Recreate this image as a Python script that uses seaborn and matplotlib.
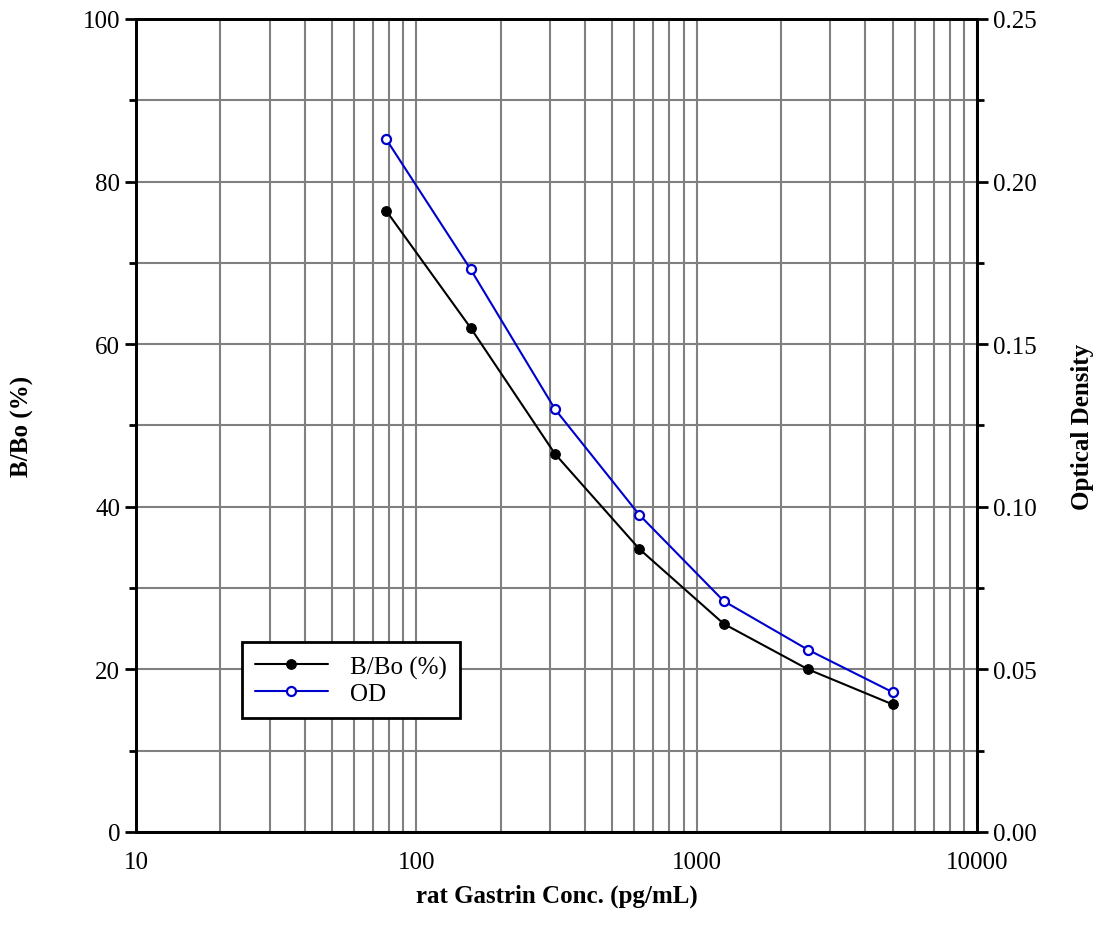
import matplotlib
matplotlib.use("Agg")
import matplotlib.pyplot as plt
import matplotlib.ticker as mticker
import seaborn as sns
import pandas as pd

# ---- data ----
conc = [78.125, 156.25, 312.5, 625, 1250, 2500, 5000]
bbo = [76.4, 62.0, 46.5, 34.8, 25.6, 20.0, 15.7]
od = [0.213, 0.173, 0.130, 0.0975, 0.071, 0.056, 0.043]

x_ticks = [10, 100, 1000, 10000]
left_ticks = [0, 20, 40, 60, 80, 100]
right_ticks = [0.00, 0.05, 0.10, 0.15, 0.20, 0.25]

sns.set_style("white")
plt.rcParams["font.family"] = ["Liberation Serif", "DejaVu Serif"]
for key in ("text.color", "axes.labelcolor", "xtick.color", "ytick.color"):
    plt.rcParams[key] = "black"
FS = 18

df = pd.DataFrame({"conc": conc, "bbo": bbo, "od": od})

fig = plt.figure(figsize=(10.94, 9.37), dpi=100)
ax = fig.add_axes([0.1243, 0.111, 0.7687, 0.8677])
ax2 = ax.twinx()

ax.set_xscale("log")
ax.set_xlim(10, 10000)
ax.set_ylim(0, 100)
ax2.set_ylim(0, 0.25)

# ticks + grid
ax.xaxis.set_minor_locator(mticker.LogLocator(base=10, subs=range(2, 10), numticks=20))
ax.xaxis.set_minor_formatter(mticker.NullFormatter())
ax.set_xticks(x_ticks)
ax.set_xticklabels([str(t) for t in x_ticks])
ax.set_yticks(left_ticks)
ax.yaxis.set_minor_locator(mticker.MultipleLocator(10))
ax2.set_yticks(right_ticks)
ax2.set_yticklabels([f"{t:.2f}" for t in right_ticks])
ax2.yaxis.set_minor_locator(mticker.MultipleLocator(0.025))
ax.grid(True, which="both", color="#808080", linewidth=1.5)
ax.set_axisbelow(True)

sns.lineplot(data=df, x="conc", y="bbo", ax=ax, color="black", marker="o",
             markersize=7, markerfacecolor="black", markeredgecolor="black",
             linewidth=1.5, label="B/Bo (%)", legend=False)
sns.lineplot(data=df, x="conc", y="od", ax=ax2, color="#0000CC", marker="o",
             markersize=6.5, markerfacecolor="white", markeredgecolor="#0000CC",
             markeredgewidth=1.6, linewidth=1.5, label="OD", legend=False)

for a in (ax, ax2):
    for s in a.spines.values():
        s.set_linewidth(2)
        s.set_color("black")
ax.tick_params(axis="both", which="major", direction="out", length=8, width=2,
               labelsize=FS, colors="black")
ax.tick_params(axis="both", which="minor", direction="out", length=5, width=2)
ax.tick_params(axis="x", which="major", pad=6)
ax2.tick_params(axis="y", which="major", direction="out", length=8, width=2,
                labelsize=FS, colors="black")
ax2.tick_params(axis="y", which="minor", direction="out", length=5, width=2)

ax.set_xlabel("rat Gastrin Conc. (pg/mL)", fontweight="bold", fontsize=FS,
              labelpad=7, color="black")
ax.set_ylabel("B/Bo (%)", fontweight="bold", fontsize=FS, labelpad=35, color="black")
ax2.set_ylabel("Optical Density", fontweight="bold", fontsize=FS, labelpad=25,
               color="black")

h1, l1 = ax.get_legend_handles_labels()
h2, l2 = ax2.get_legend_handles_labels()
leg = ax2.legend(h1 + h2, l1 + l2, loc="lower left",
                 bbox_to_anchor=(0.126, 0.140), fontsize=FS, frameon=True,
                 fancybox=False, framealpha=1, edgecolor="black",
                 handlelength=2.9, handletextpad=0.9, borderpad=0.53,
                 labelspacing=0.15, borderaxespad=0, labelcolor="black")
leg.get_frame().set_linewidth(2)

fig.savefig("out.png", dpi=100)
